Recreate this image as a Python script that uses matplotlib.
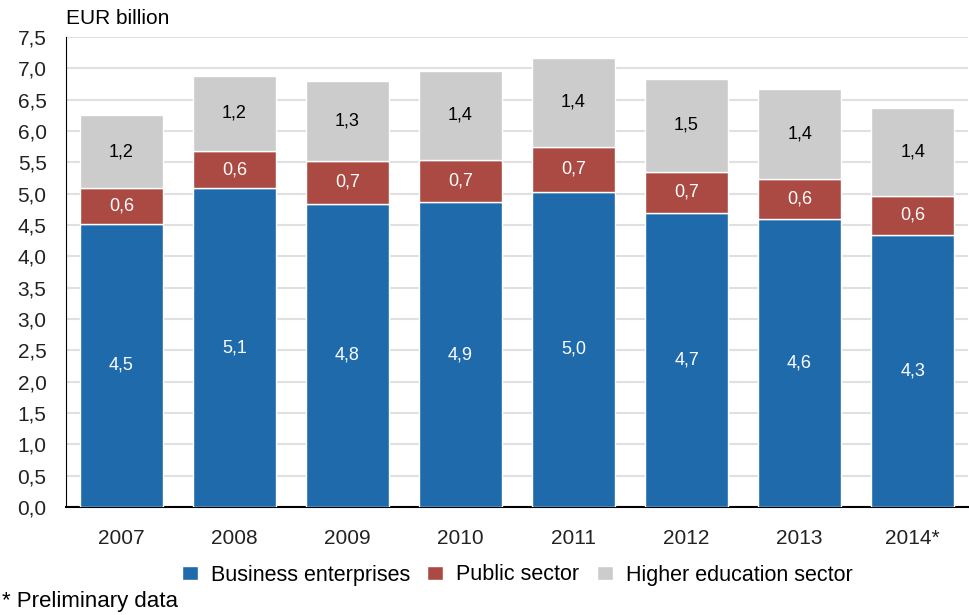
import numpy as np
import matplotlib.pyplot as plt

years = ["2007", "2008", "2009", "2010", "2011", "2012", "2013", "2014*"]
business = [4.52, 5.09, 4.84, 4.86, 5.03, 4.69, 4.60, 4.34]
public = [0.57, 0.59, 0.68, 0.68, 0.72, 0.66, 0.63, 0.63]
higher_ed = [1.16, 1.20, 1.27, 1.42, 1.41, 1.48, 1.44, 1.39]

plt.rcParams['font.family'] = ['Liberation Sans', 'DejaVu Sans']

fig = plt.figure(figsize=(9.69, 6.15), dpi=100)
ax = fig.add_axes([66 / 969, 1 - 507 / 615, 902 / 969, 470 / 615])

x = np.arange(len(years))
w = 0.74
b = np.array(business)
p = np.array(public)
h = np.array(higher_ed)

series = [
    (b, 0, "#1f6aab", "white", "Business enterprises"),
    (p, b, "#ab4a43", "white", "Public sector"),
    (h, b + p, "#cccccc", "black", "Higher education sector"),
]
for vals, bottom, col, tcol, name in series:
    ax.bar(x, vals, w, bottom=bottom, color=col, edgecolor="white",
           linewidth=1, label=name, zorder=3)
    for xi, v, bt in zip(x, vals, np.zeros(len(x)) + bottom):
        ax.text(xi, bt + v / 2, f"{v:.1f}".replace(".", ","), ha="center",
                va="center", color=tcol, fontsize=13, zorder=4)

ax.set_xlim(-0.49, 7.49)
ax.set_ylim(0, 7.5)
ax.set_yticks(np.arange(0, 7.51, 0.5))
ax.set_yticklabels([f"{t:.1f}".replace(".", ",") for t in np.arange(0, 7.51, 0.5)])
ax.set_xticks(x)
ax.set_xticklabels(years)
ax.tick_params(axis="both", length=0, labelsize=15, colors="#222222")
ax.tick_params(axis="x", pad=16)
ax.tick_params(axis="y", pad=14)
ax.grid(axis="y", color="#e0e0e0", linewidth=1.5, zorder=0)
for s in ["top", "right"]:
    ax.spines[s].set_visible(False)
ax.spines["left"].set_color("black")
ax.spines["bottom"].set_color("black")
ax.spines["bottom"].set_linewidth(1.5)

fig.text(66 / 969, 1 - 19 / 615, "EUR billion", fontsize=15, va="center", ha="left")
fig.text(2 / 969, 1 - 602 / 615, "* Preliminary data", fontsize=16, va="center", ha="left")

fig.legend(loc="center", bbox_to_anchor=(517 / 969, 1 - 575 / 615), ncol=3,
           frameon=False, fontsize=15.5, handlelength=0.75, handleheight=0.6,
           handletextpad=0.6, columnspacing=0.8)

fig.savefig("out.png", dpi=100)
